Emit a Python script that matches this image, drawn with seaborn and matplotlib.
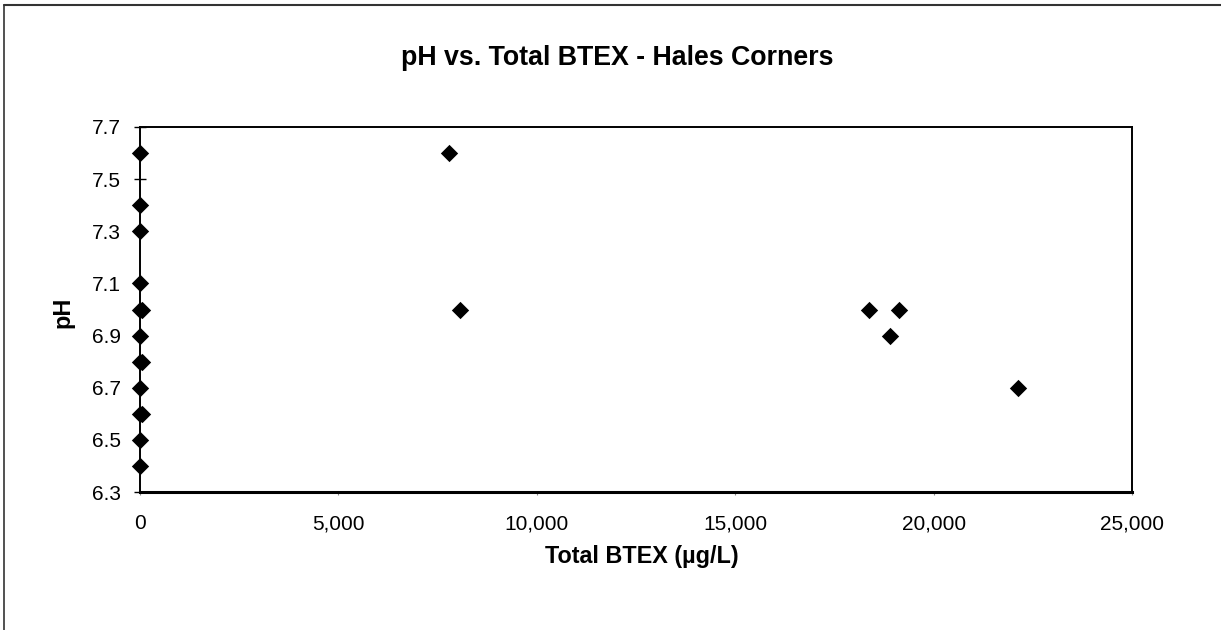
import matplotlib
matplotlib.use("Agg")
import matplotlib.pyplot as plt
import seaborn as sns
import pandas as pd
from matplotlib.lines import Line2D
from matplotlib.ticker import FuncFormatter

# Data
total_btex = [0, 0, 0, 0, 0, 60, 0, 0, 60, 0, 0, 60, 0, 0,
              7790, 8060, 18370, 19130, 18900, 22130]
ph = [7.6, 7.4, 7.3, 7.1, 7.0, 7.0, 6.9, 6.8, 6.8, 6.7, 6.6, 6.6, 6.5, 6.4,
      7.6, 7.0, 7.0, 7.0, 6.9, 6.7]
x_ticks = [0, 5000, 10000, 15000, 20000, 25000]
y_ticks = [6.3, 6.5, 6.7, 6.9, 7.1, 7.3, 7.5, 7.7]

df = pd.DataFrame({"Total BTEX": total_btex, "pH": ph})

sns.set_theme(style="white")
plt.rcParams["font.family"] = ["Liberation Sans", "DejaVu Sans"]

fig = plt.figure(figsize=(12.21, 6.30), dpi=100)
ax = fig.add_axes([140 / 1221, 1 - 492 / 630, (1132 - 140) / 1221, (492 - 127) / 630])

sns.scatterplot(data=df, x="Total BTEX", y="pH", marker="D", s=78,
                color="black", edgecolor="black", linewidth=0, ax=ax, zorder=3,
                clip_on=False)

ax.set_xlim(0, 25000)
ax.set_ylim(6.3, 7.7)
ax.set_xticks(x_ticks)
ax.set_yticks(y_ticks)
ax.xaxis.set_major_formatter(FuncFormatter(lambda v, p: f"{int(v):,}"))
ax.yaxis.set_major_formatter(FuncFormatter(lambda v, p: f"{v:.1f}"))
ax.tick_params(axis="y", direction="inout", length=8, width=1, color="black",
               labelsize=15, pad=10, left=True)
ax.tick_params(axis="x", direction="out", length=2, width=0.8, color="#888888",
               labelsize=15, pad=14, bottom=True)
for lab in ax.get_xticklabels() + ax.get_yticklabels():
    lab.set_color("#000000")

for side in ["left", "right", "top", "bottom"]:
    ax.spines[side].set_visible(True)
    ax.spines[side].set_color("black")
    ax.spines[side].set_linewidth(1.4)
ax.spines["bottom"].set_linewidth(2.2)
ax.set_xlabel("")
ax.set_ylabel("")
ax.grid(False)

fig.text(617 / 1221, 1 - 58 / 630, "pH vs. Total BTEX - Hales Corners",
         ha="center", va="center", fontsize=19.3, fontweight="bold", color="#000000")
fig.text(642 / 1221, 1 - 556 / 630, "Total BTEX (µg/L)",
         ha="center", va="center", fontsize=16.8, fontweight="bold", color="#000000")
fig.text(63 / 1221, 1 - 312 / 630, "pH", rotation=90,
         ha="center", va="center", fontsize=16.8, fontweight="bold", color="#000000")

# scanned page border (top and left)
fig.add_artist(Line2D([4 / 1221, 1.0], [1 - 5 / 630, 1 - 5 / 630],
                      transform=fig.transFigure, color="#333333", linewidth=1.5))
fig.add_artist(Line2D([4 / 1221, 4 / 1221], [0.0, 1 - 5 / 630],
                      transform=fig.transFigure, color="#333333", linewidth=1.2))

fig.savefig("out.png", dpi=100, facecolor="white")
